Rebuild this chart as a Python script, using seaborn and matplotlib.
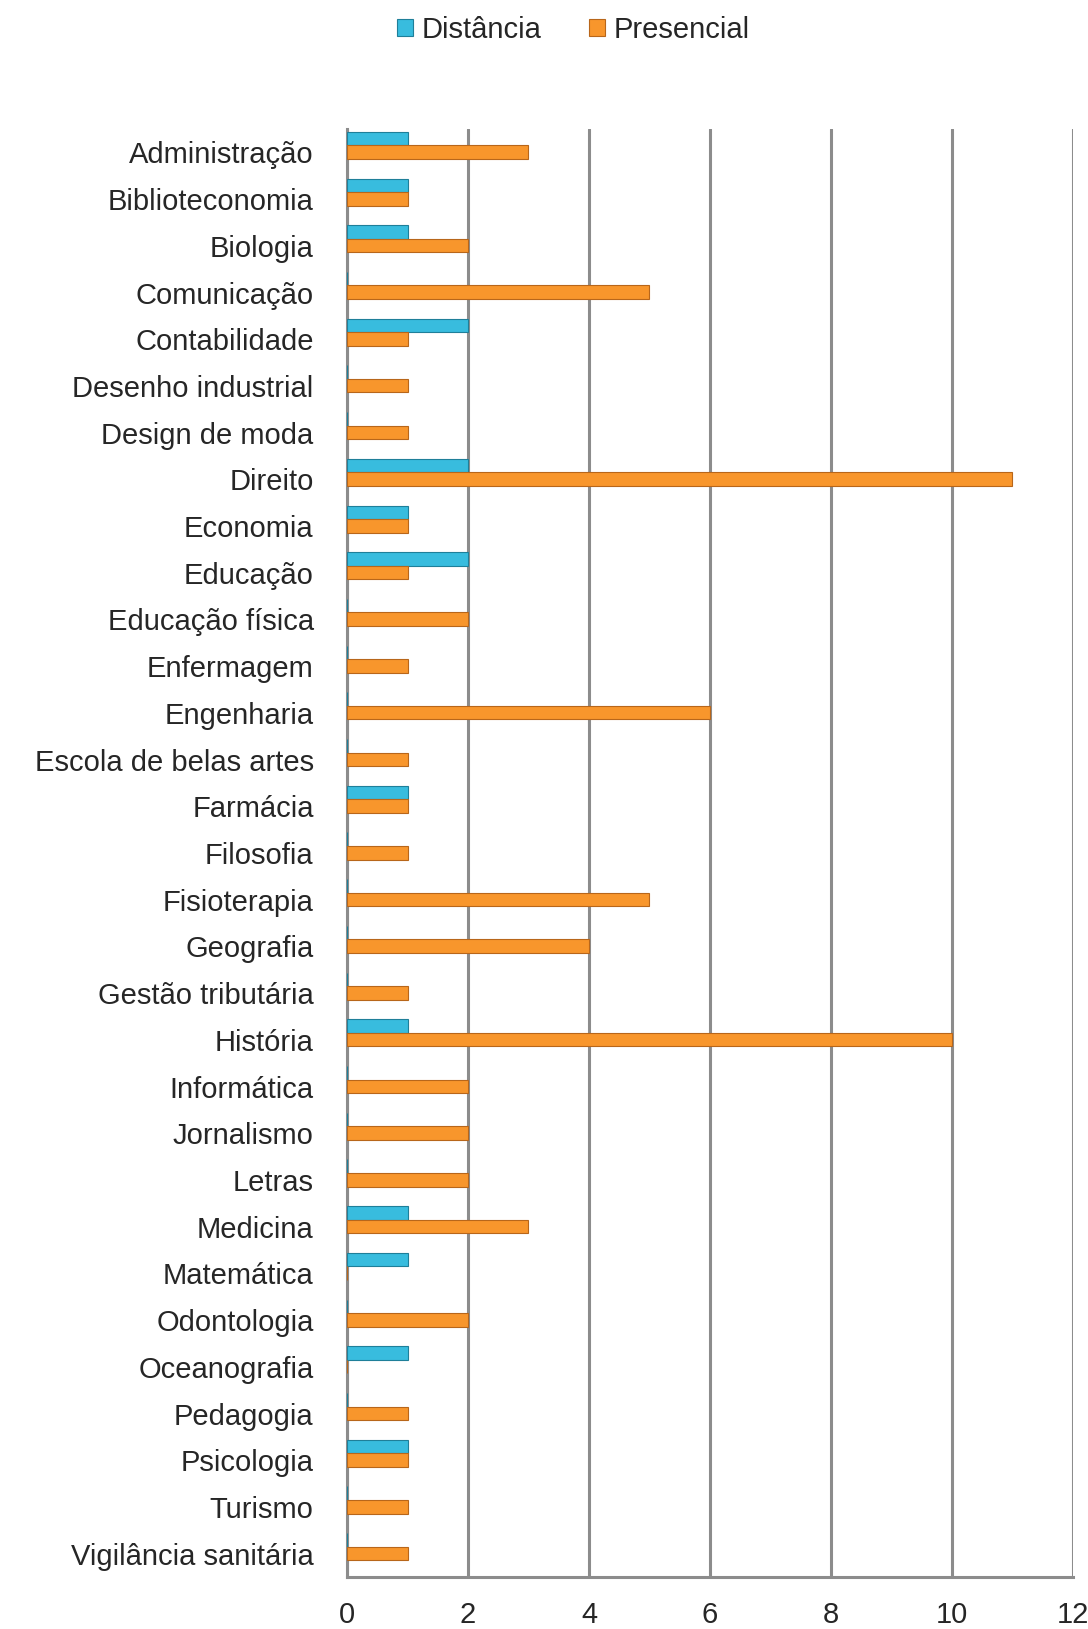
import pandas as pd
import numpy as np
import matplotlib
matplotlib.use("Agg")
import matplotlib.pyplot as plt
import seaborn as sns

# dados
cursos = ["Administração", "Biblioteconomia", "Biologia", "Comunicação", "Contabilidade",
          "Desenho industrial", "Design de moda", "Direito", "Economia", "Educação",
          "Educação física", "Enfermagem", "Engenharia", "Escola de belas artes", "Farmácia",
          "Filosofia", "Fisioterapia", "Geografia", "Gestão tributária", "História",
          "Informática", "Jornalismo", "Letras", "Medicina", "Matemática",
          "Odontologia", "Oceanografia", "Pedagogia", "Psicologia", "Turismo",
          "Vigilância sanitária"]
distancia = [1, 1, 1, 0, 2, 0, 0, 2, 1, 2, 0, 0, 0, 0, 1, 0, 0, 0, 0, 1,
             0, 0, 0, 1, 1, 0, 1, 0, 1, 0, 0]
presencial = [3, 1, 2, 5, 1, 1, 1, 11, 1, 1, 2, 1, 6, 1, 1, 1, 5, 4, 1, 10,
              2, 2, 2, 3, 0, 2, 0, 1, 1, 1, 1]
series = ["Distância", "Presencial"]
cores = ["#38BCDE", "#F8962C"]
bordas = ["#1f7f99", "#b8661a"]

df = pd.DataFrame({"Curso": cursos, "Distância": distancia, "Presencial": presencial})
df = df.melt(id_vars="Curso", var_name="Modalidade", value_name="Valor")

sns.set_style("white")
plt.rcParams["font.family"] = ["Liberation Sans", "DejaVu Sans"]

fig = plt.figure(figsize=(10.88, 16.29), dpi=100)
ax = fig.add_axes([0.319, 0.0319, 0.667, 0.8889])

sns.barplot(data=df, y="Curso", x="Valor", hue="Modalidade", order=cursos,
            hue_order=series, palette=cores, saturation=1, orient="h", width=0.58,
            linewidth=0, ax=ax, zorder=3)

# bordas mais escuras; barras um pouco acima do rótulo (efeito 3D do original)
for barras, borda in zip(ax.containers, bordas):
    for b in barras:
        b.set_edgecolor(borda)
        b.set_linewidth(0.8)
        b.set_y(b.get_y() - 0.15)

ax.set_xlim(0, 12)
ax.set_ylim(len(cursos) - 0.5, -0.5)
ax.set_xticks(range(0, 13, 2))
ax.set_xlabel("")
ax.set_ylabel("")
ax.grid(axis="x", color="#8c8c8c", linewidth=2.2, zorder=0)
ax.grid(axis="y", visible=False)

for s in ["top", "right"]:
    ax.spines[s].set_visible(False)
for s in ["left", "bottom"]:
    ax.spines[s].set_color("#8c8c8c")
    ax.spines[s].set_linewidth(2.2)

ax.tick_params(axis="y", length=0, labelsize=21, pad=24)
ax.tick_params(axis="x", length=8, color="#8c8c8c", width=2, labelsize=21, pad=9)
ax.set_yticks(np.arange(-0.5, len(cursos), 1), minor=True)
ax.tick_params(axis="y", which="minor", length=9, color="#8c8c8c", width=2)

ax.legend_.remove()
handles = [plt.Rectangle((0, 0), 1, 1, facecolor=c, edgecolor=e, linewidth=0.8)
           for c, e in zip(cores, bordas)]
fig.legend(handles, series, loc="center", bbox_to_anchor=(0.527, 0.9816), ncol=2,
           frameon=False, fontsize=21, handlelength=0.55, handleheight=0.55,
           handletextpad=0.3, columnspacing=1.6)

fig.savefig("out.png", dpi=100)
